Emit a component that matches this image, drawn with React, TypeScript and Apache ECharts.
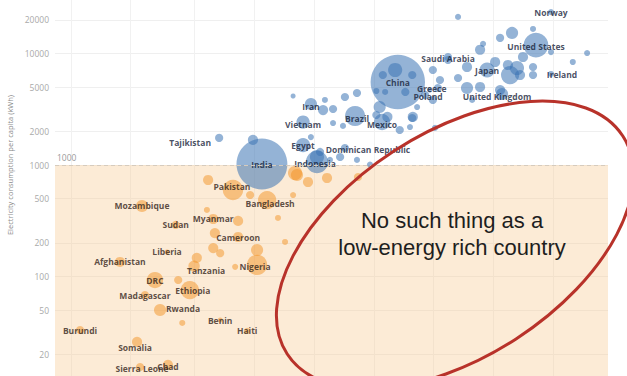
import React, { useEffect, useRef } from 'react';
import * as echarts from 'echarts';

// ---- data ----
// labelled countries
const countries = [
  'Norway', 'United States', 'Saudi Arabia', 'Japan', 'Ireland', 'United Kingdom', 'Greece', 'Poland',
  'China', 'Iran', 'Vietnam', 'Brazil', 'Mexico', 'Egypt', 'Dominican Republic', 'Indonesia', 'Tajikistan', 'India',
  'Pakistan', 'Bangladesh', 'Mozambique', 'Sudan', 'Myanmar', 'Cameroon', 'Liberia', 'Afghanistan', 'Tanzania', 'Nigeria',
  'DRC', 'Ethiopia', 'Madagascar', 'Rwanda', 'Benin', 'Haiti', 'Burundi', 'Somalia', 'Sierra Leone', 'Chad',
];
const gdpPerCapita = [
  77700, 65300, 23600, 37100, 77700, 44100, 19100, 18100,
  13200, 4830, 4410, 8050, 11000, 4410, 7160, 5180, 1670, 2740,
  1960, 2910, 684, 1010, 1560, 2080, 914, 530, 1250, 2590,
  795, 1190, 708, 843, 1690, 2310, 334, 646, 669, 924,
];
const kwhPerCapita = [
  23500, 11900, 9300, 7110, 6550, 4330, 4700, 4250,
  5550, 3520, 2430, 2750, 2430, 1510, 1420, 1064, 1750, 1020,
  597, 485, 429, 290, 328, 226, 166, 135, 124, 127,
  93, 75.6, 68.2, 50.1, 40.7, 32.5, 33.1, 25.9, 15.4, 16.1,
];
const populationM = [
  20, 330, 36, 125, 20, 80, 14, 36,
  1600, 80, 95, 220, 143, 109, 36, 270, 36, 1400,
  224, 180, 80, 36, 56, 56, 14, 56, 70, 224,
  143, 180, 36, 80, 14, 20, 36, 56, 36, 56,
];
// unlabelled countries
const otherGdpPerCapita = [
  3930, 5680, 5560, 6240, 7160, 8230, 10300, 10700, 10300, 11700, 13500, 15600, 15200, 7000, 6240,
  4830, 5370, 5180, 6770, 8230, 9570, 2470, 6020, 12800, 11100, 15600, 14400, 11400, 26500,
  49500, 43100, 63100, 77700, 118000, 100000, 56200, 34200, 35400, 29400, 19800, 23600, 48400, 52400, 47200,
  63100, 63100, 54300, 34200, 29400, 26500, 21500, 43100, 31200, 19800, 15700, 20300, 16500, 21000, 40700,
  1470, 1450, 1590, 1560, 2590, 2010, 3580, 3300, 3930, 4110, 4670, 5820, 8330, 4020, 1690, 1290, 1040, 1090, 2080, 2390,
];
const otherKwhPerCapita = [
  4160, 3830, 3110, 3180, 4070, 4420, 4610, 3310, 2810, 2700, 2060, 2640, 2190, 2240, 2380,
  1780, 1310, 1180, 1180, 1110, 1010, 1680, 1110, 7110, 6410, 6410, 4520, 4520, 21300,
  15300, 13800, 16600, 10300, 10100, 8390, 9300, 10800, 12200, 7570, 7110, 8740, 6410, 7410, 7890,
  7570, 6410, 6410, 5010, 4900, 6030, 5780, 4700, 3830, 3830, 2700, 2150, 3310, 4900, 8390,
  734, 395, 245, 180, 173, 122, 204, 335, 538, 813, 704, 765, 780, 848, 162, 147, 93, 38.3, 315, 538,
];
const otherPopulationM = [
  14, 20, 56, 36, 36, 36, 20, 80, 36, 56, 36, 36, 20, 20, 20,
  20, 36, 109, 36, 20, 20, 56, 20, 109, 36, 36, 36, 20, 20,
  80, 36, 20, 20, 20, 20, 56, 56, 20, 56, 36, 36, 180, 109, 56,
  36, 36, 56, 56, 80, 36, 36, 56, 20, 36, 56, 20, 20, 36, 56,
  56, 20, 56, 56, 80, 20, 20, 20, 20, 80, 56, 56, 36, 109, 36, 56, 36, 20, 56, 36,
];
const yTickValues = [20, 50, 100, 200, 500, 1000, 2000, 5000, 10000, 20000];
const xGridValues = [300, 600, 1250, 2500, 5000, 10000, 20000, 40000, 80000];
const thresholdKWh = 1000;
const annotationLines = ['No such thing as a', 'low-energy rich country'];
const yAxisTitle = 'Electricity consumption per capita (kWh)';

// ---- layout / style (not data) ----
const labelOffsets: Record<string, [number, number]> = {
  'Ireland': [11, 1], 'United Kingdom': [-5, 2], 'Greece': [2, -2], 'Poland': [3, 2], 'Iran': [0, 2],
  'Vietnam': [0, 2], 'Brazil': [2, 2], 'Mexico': [0, 2], 'Dominican Republic': [23, 1], 'Tajikistan': [-29, 5],
  'United States': [0, 1], 'Saudi Arabia': [0, 1], 'Indonesia': [-2, 2], 'Bangladesh': [3, 3], 'Pakistan': [-1, -3],
  'Tanzania': [12, 4], 'Rwanda': [23, -1], 'Somalia': [-2, 6], 'Nigeria': [-2, 2], 'Ethiopia': [3, 0],
  'Sierra Leone': [2, 1], 'Chad': [0, 2],
};
const BLUE = 'rgba(58,115,180,0.68)';
const ORANGE = 'rgba(242,145,35,0.62)';

export default function App() {
  const ref = useRef<HTMLDivElement>(null);
  useEffect(() => {
    const chart = echarts.init(ref.current!, null, { renderer: 'svg' });
    const lg = Math.log10;
    const xMin = lg(250);
    const xMax = xMin + 553 / 199;
    const yMin = 3 - 211 / 111.5;
    const yMax = 3 + 165 / 111.5;
    const labelled = countries.map((name, i) => ({
      name,
      value: [lg(gdpPerCapita[i]), lg(kwhPerCapita[i]), populationM[i]],
      high: kwhPerCapita[i] >= thresholdKWh,
      label: { show: true, offset: labelOffsets[name] || [0, 0] },
    }));
    const others = otherGdpPerCapita.map((g, i) => ({
      name: '',
      value: [lg(g), lg(otherKwhPerCapita[i]), otherPopulationM[i]],
      high: otherKwhPerCapita[i] >= thresholdKWh,
      label: { show: false },
    }));
    const items = [...labelled, ...others].sort((a, b) => b.value[2] - a.value[2]);
    const mk = (high: boolean) => items.filter((d) => d.high === high).map(({ high: _h, ...d }) => d);
    const labelBase = {
      show: true,
      position: 'inside',
      formatter: '{b}',
      fontFamily: 'Open Sans',
      fontWeight: 'bold',
      fontSize: 8.5,
    };
    const sizeFn = (v: number[]) => Math.max(5, 1.36 * Math.sqrt(v[2]));
    chart.setOption({
      animation: false,
      backgroundColor: '#fff',
      grid: { left: 55, right: 19, top: 0, bottom: 0 },
      xAxis: {
        type: 'value', min: xMin, max: xMax,
        axisLine: { show: false }, axisLabel: { show: false },
        axisTick: { show: false, customValues: xGridValues.map(lg) },
        splitLine: { show: true, lineStyle: { color: '#f1f1f1' } },
      },
      yAxis: {
        type: 'value', min: yMin, max: yMax,
        axisLine: { show: false },
        axisTick: { show: false, customValues: yTickValues.map(lg) },
        axisLabel: {
          customValues: yTickValues.map(lg),
          formatter: (v: number) => String(Math.round(Math.pow(10, v))),
          color: '#a9a9a9', fontSize: 8.5, margin: 6, fontFamily: 'Open Sans',
        },
        splitLine: { show: true, lineStyle: { color: '#efefef' } },
      },
      series: [
        {
          type: 'scatter', data: [], z: 1, silent: true,
          markArea: {
            silent: true,
            itemStyle: { color: 'rgba(246,200,140,0.36)' },
            data: [[{ coord: [xMin, yMin] }, { coord: [xMax, lg(thresholdKWh)] }]],
          },
          markLine: {
            silent: true, symbol: 'none',
            lineStyle: { type: [4, 3], color: '#d6cbbd', width: 1 },
            label: {
              show: true, position: 'insideStartTop', formatter: String(thresholdKWh),
              color: '#9a9a9a', fontSize: 8.5, fontFamily: 'Open Sans', distance: [2, 3],
            },
            data: [{ yAxis: lg(thresholdKWh) }],
          },
        },
        {
          type: 'scatter', z: 3, data: mk(false), symbolSize: sizeFn,
          itemStyle: { color: ORANGE },
          label: { ...labelBase, color: '#35251a' },
        },
        {
          type: 'scatter', z: 3, data: mk(true), symbolSize: sizeFn,
          itemStyle: { color: BLUE },
          label: { ...labelBase, color: '#18243a' },
        },
      ],
      graphic: [
        {
          type: 'text', x: 10, y: 165, rotation: Math.PI / 2,
          style: {
            text: yAxisTitle, fill: '#8a8a8a', fontSize: 7.5, fontFamily: 'Open Sans',
            align: 'center', verticalAlign: 'middle',
          },
        },
        {
          type: 'ellipse', x: 455, y: 245, rotation: (33 * Math.PI) / 180, z: 10,
          shape: { cx: 0, cy: 0, rx: 200, ry: 112 },
          style: { fill: 'none', stroke: '#b8322a', lineWidth: 3 },
        },
        {
          type: 'text', x: 452, y: 234, z: 10,
          style: {
            text: annotationLines.join('\n'), fill: '#1e1e1e', fontSize: 22, lineHeight: 27,
            fontFamily: 'Liberation Sans', align: 'center', verticalAlign: 'middle',
          },
        },
      ],
    });
    return () => chart.dispose();
  }, []);
  return <div ref={ref} style={{ position: 'fixed', left: 0, top: 0, width: 627, height: 376 }} />;
}
